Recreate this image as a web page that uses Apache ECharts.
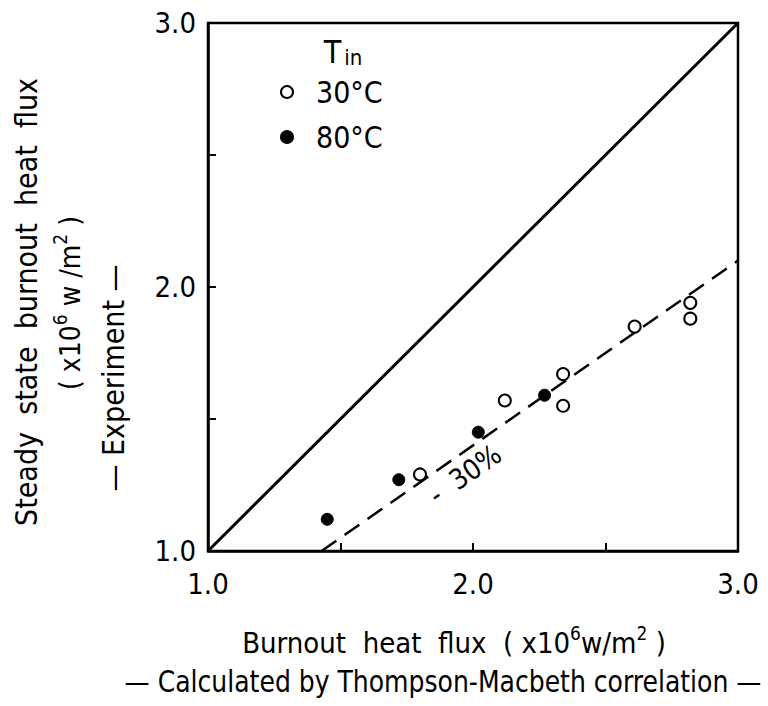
<!DOCTYPE html>
<html>
<head>
<meta charset="utf-8">
<script src="https://cdn.jsdelivr.net/npm/echarts@6/dist/echarts.min.js"></script>
<style>
  html, body { margin: 0; padding: 0; background: #fff; }
  #chart { width: 768px; height: 706px; }
</style>
</head>
<body>
<div id="chart"></div>
<script>
// Measured burnout heat flux vs. Thompson-Macbeth prediction (x10^6 W/m^2)
const open30X   = [1.80, 2.12, 2.34, 2.34, 2.61, 2.82, 2.82];
const open30Y   = [1.29, 1.57, 1.67, 1.55, 1.85, 1.94, 1.88];
const filled80X = [1.45, 1.72, 2.02, 2.27];
const filled80Y = [1.12, 1.27, 1.45, 1.59];
// y = x reference and the -30 % band (y = 0.7 x)
const equalX  = [1.0, 3.0];
const equalY  = [1.0, 3.0];
const minus30X = [1.0 / 0.7, 3.0];
const minus30Y = [1.0, 2.1];
const tickLabels = ['1.0', '2.0', '3.0'];
const seriesNames = ['30°C', '80°C'];

const FONT = "'DejaVu Sans Condensed', 'DejaVu Sans', sans-serif";
const pairs = (xs, ys) => xs.map((x, i) => [x, ys[i]]);
const labelFor = v => {
  const hit = tickLabels.find(t => Math.abs(parseFloat(t) - v) < 1e-6);
  return hit || '';
};

const chart = echarts.init(document.getElementById('chart'), null, { renderer: 'svg' });

const axisCommon = {
  min: 1, max: 3, interval: 0.5,
  axisLine: { show: true, onZero: false, lineStyle: { color: '#000', width: 2.5 } },
  axisTick: { show: true, inside: true, length: 8, lineStyle: { color: '#000', width: 2 } },
  splitLine: { show: false },
  axisLabel: { formatter: labelFor, color: '#000', fontFamily: FONT, fontSize: 29 }
};

chart.setOption({
  animation: false,
  backgroundColor: '#fff',
  grid: { left: 208, right: 30, top: 23, bottom: 155, show: true, borderColor: '#000', borderWidth: 2.5, backgroundColor: 'transparent' },
  xAxis: Object.assign({ type: 'value' }, axisCommon, {
    axisLabel: Object.assign({}, axisCommon.axisLabel, { margin: 18 })
  }),
  yAxis: Object.assign({ type: 'value' }, axisCommon, {
    axisLabel: Object.assign({}, axisCommon.axisLabel, { margin: 12 })
  }),
  legend: {
    orient: 'vertical', left: 275, top: 72, itemGap: 15,
    itemWidth: 12, itemHeight: 12,
    data: seriesNames,
    textStyle: { fontFamily: FONT, fontSize: 30, color: '#000', padding: [0, 0, 0, 18] }
  },
  series: [
    {
      type: 'line', data: pairs(equalX, equalY), symbol: 'none', silent: true,
      lineStyle: { color: '#000', width: 3 }
    },
    {
      type: 'line', data: pairs(minus30X, minus30Y), symbol: 'none', silent: true,
      lineStyle: { color: '#000', width: 2.5, type: [18, 10] }
    },
    {
      name: seriesNames[0], type: 'scatter', data: pairs(open30X, open30Y),
      symbol: 'circle', symbolSize: 12,
      itemStyle: { color: '#fff', borderColor: '#000', borderWidth: 2, opacity: 1 }
    },
    {
      name: seriesNames[1], type: 'scatter', data: pairs(filled80X, filled80Y),
      symbol: 'circle', symbolSize: 12,
      itemStyle: { color: '#000', borderColor: '#000', borderWidth: 1, opacity: 1 }
    }
  ]
});

// Rotated "-30 %" note placed just under the dashed band line
const px = p => chart.convertToPixel({ gridIndex: 0 }, p);
const notePos = px([1.97, 1.29]);
const bandA = px([minus30X[0], minus30Y[0]]);
const bandB = px([minus30X[1], minus30Y[1]]);
const bandAngle = Math.atan2(bandA[1] - bandB[1], bandB[0] - bandA[0]);

const txt = (extra) => Object.assign({ fill: '#000', fontFamily: FONT, align: 'center', verticalAlign: 'middle' }, extra);

chart.setOption({
  graphic: [
    // legend heading T_in
    {
      type: 'text', x: 343, y: 52,
      style: txt({
        text: '{t|T}{s|in}',
        rich: {
          t: { fontFamily: FONT, fontSize: 32, fill: '#000', verticalAlign: 'bottom' },
          s: { fontFamily: FONT, fontSize: 22, fill: '#000', verticalAlign: 'bottom', padding: [0, 0, 0, 3] }
        }
      })
    },
    {
      type: 'text', x: notePos[0], y: notePos[1], rotation: bandAngle,
      style: txt({ text: '-  30%', fontSize: 28 })
    },
    // y-axis title, three rotated lines
    {
      type: 'text', x: 26, y: 302, rotation: Math.PI / 2,
      style: txt({ text: 'Steady  state  burnout  heat  flux', fontSize: 30 })
    },
    {
      type: 'text', x: 67, y: 303, rotation: Math.PI / 2,
      style: txt({
        text: '{a|( x10}{s|6}{a| w /m}{s|2}{a| )}',
        rich: {
          a: { fontFamily: FONT, fontSize: 28, fill: '#000', lineHeight: 34, verticalAlign: 'bottom' },
          s: { fontFamily: FONT, fontSize: 19, fill: '#000', lineHeight: 34, verticalAlign: 'top' }
        }
      })
    },
    {
      type: 'text', x: 113, y: 378, rotation: Math.PI / 2,
      style: txt({ text: '— Experiment —', fontSize: 30 })
    },
    // x-axis title, two lines
    {
      type: 'text', x: 454, y: 640,
      style: txt({
        text: '{a|Burnout  heat  flux  ( x10}{s|6}{a|w/m}{s|2}{a| )}',
        rich: {
          a: { fontFamily: FONT, fontSize: 29, fill: '#000', lineHeight: 34, verticalAlign: 'bottom' },
          s: { fontFamily: FONT, fontSize: 19, fill: '#000', lineHeight: 34, verticalAlign: 'top' }
        }
      })
    },
    {
      type: 'text', x: 443, y: 681, scaleX: 0.9,
      style: txt({ text: '— Calculated by Thompson-Macbeth correlation —', fontSize: 31 })
    }
  ]
});
</script>
</body>
</html>
